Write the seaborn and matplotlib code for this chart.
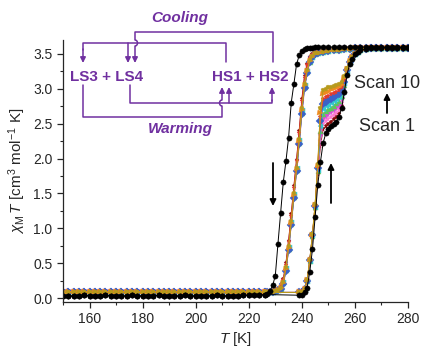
import matplotlib
matplotlib.use("Agg")
import matplotlib.pyplot as plt
import seaborn as sns
from matplotlib.lines import Line2D
from matplotlib.patches import FancyArrowPatch, Arc
from matplotlib.ticker import MultipleLocator

# ---- data: chi_M*T vs T for 10 thermal scans ----
scan_names = ["Scan 1", "Scan 2", "Scan 3", "Scan 4", "Scan 5",
              "Scan 6", "Scan 7", "Scan 8", "Scan 9", "Scan 10"]
scan_colors = ["#000000", "#8b0a0a", "#ff7ad0", "#d84ad8", "#5cc85c",
               "#33c6d0", "#3a62c8", "#e23b2e", "#ef8a1f", "#b79a1c"]
scan_markers = ["o", "*", "*", "v", "^", "<", "D", "*", ">", "p"]

# low temperature baseline (LS)
T_base = [150, 152, 154, 156, 158, 160, 162, 164, 166, 168, 170, 172, 174,
          176, 178, 180, 182, 184, 186, 188, 190, 192, 194, 196, 198, 200,
          202, 204, 206, 208, 210, 212, 214, 216, 218, 220, 222, 224, 226]
chi_base_black = [0.03, 0.03, 0.03, 0.03, 0.04, 0.03, 0.03, 0.03, 0.04, 0.03,
                  0.03, 0.03, 0.03, 0.04, 0.03, 0.03, 0.03, 0.03, 0.04, 0.03,
                  0.03, 0.03, 0.03, 0.04, 0.03, 0.03, 0.03, 0.03, 0.03, 0.04,
                  0.03, 0.03, 0.03, 0.03, 0.04, 0.04, 0.04, 0.04, 0.05]
chi_base_color = [0.08, 0.08, 0.08, 0.08, 0.08, 0.08, 0.08, 0.08, 0.08, 0.08,
                  0.08, 0.08, 0.08, 0.08, 0.08, 0.08, 0.08, 0.08, 0.08, 0.08,
                  0.08, 0.08, 0.08, 0.08, 0.08, 0.08, 0.08, 0.08, 0.08, 0.08,
                  0.08, 0.08, 0.08, 0.08, 0.08, 0.08, 0.08, 0.08, 0.08]

# high temperature plateau (HS)
T_top = [246, 248, 250, 252, 254, 256, 258, 260, 262, 264, 266, 268, 270,
         272, 274, 276, 278, 280]
chi_top_black = [3.60, 3.60, 3.60, 3.60, 3.60, 3.60, 3.60, 3.60, 3.60, 3.60,
                 3.60, 3.60, 3.60, 3.60, 3.60, 3.60, 3.60, 3.60]
chi_top_color = [3.52, 3.53, 3.54, 3.55, 3.56, 3.57, 3.57, 3.58, 3.58, 3.58,
                 3.59, 3.59, 3.59, 3.59, 3.59, 3.59, 3.59, 3.59]
T_top_warm = [264, 266, 268, 270, 272, 274, 276, 278, 280]
chi_top_warm = [3.57, 3.58, 3.58, 3.59, 3.59, 3.59, 3.59, 3.59, 3.59]

# cooling branch
T_cool = [227, 228, 229, 230, 231, 232, 233, 234, 235, 236, 237, 238, 239,
          240, 241, 242, 243, 244, 245]
cool_1 = [0.06, 0.10, 0.18, 0.32, 0.78, 1.22, 1.66, 1.96, 2.30, 2.80, 3.07,
          3.35, 3.48, 3.54, 3.57, 3.58, 3.59, 3.59, 3.60]
cool_2 = [0.08, 0.08, 0.09, 0.10, 0.12, 0.16, 0.27, 0.50, 0.82, 1.20, 1.60,
          1.98, 2.40, 2.85, 3.18, 3.36, 3.45, 3.50, 3.52]
cool_3 = [0.08, 0.08, 0.09, 0.10, 0.11, 0.13, 0.20, 0.38, 0.68, 1.04, 1.42,
          1.80, 2.20, 2.62, 3.00, 3.22, 3.38, 3.45, 3.50]
cool_4 = [0.08, 0.08, 0.09, 0.10, 0.11, 0.14, 0.22, 0.41, 0.71, 1.07, 1.46,
          1.84, 2.24, 2.68, 3.04, 3.25, 3.40, 3.46, 3.50]
cool_5 = [0.08, 0.08, 0.09, 0.10, 0.11, 0.13, 0.21, 0.40, 0.70, 1.06, 1.45,
          1.83, 2.22, 2.66, 3.02, 3.24, 3.39, 3.46, 3.50]
cool_6 = [0.08, 0.08, 0.09, 0.10, 0.11, 0.14, 0.23, 0.43, 0.73, 1.09, 1.49,
          1.86, 2.26, 2.70, 3.06, 3.26, 3.40, 3.46, 3.51]
cool_7 = [0.08, 0.08, 0.09, 0.10, 0.11, 0.13, 0.20, 0.39, 0.69, 1.05, 1.44,
          1.82, 2.21, 2.64, 3.01, 3.23, 3.38, 3.45, 3.50]
cool_8 = [0.08, 0.08, 0.09, 0.10, 0.12, 0.16, 0.26, 0.48, 0.80, 1.18, 1.58,
          1.96, 2.37, 2.82, 3.15, 3.34, 3.44, 3.49, 3.52]
cool_9 = [0.08, 0.08, 0.09, 0.10, 0.11, 0.14, 0.22, 0.42, 0.72, 1.08, 1.48,
          1.85, 2.25, 2.70, 3.05, 3.25, 3.40, 3.46, 3.50]
cool_10 = [0.08, 0.08, 0.09, 0.10, 0.11, 0.14, 0.23, 0.44, 0.74, 1.10, 1.50,
           1.87, 2.28, 2.72, 3.07, 3.27, 3.41, 3.47, 3.51]
cool_scans = [cool_1, cool_2, cool_3, cool_4, cool_5,
              cool_6, cool_7, cool_8, cool_9, cool_10]

# warming branch
T_warm = [239, 240, 241, 242, 243, 244, 245, 246, 247, 248, 249, 250, 251,
          252, 253, 254, 255, 256, 257, 258, 259, 260, 261, 262]
warm_1 = [0.04, 0.05, 0.09, 0.15, 0.38, 0.70, 1.16, 1.62, 1.95, 2.22, 2.36,
          2.43, 2.47, 2.50, 2.53, 2.60, 2.72, 2.95, 3.20, 3.35, 3.43, 3.50,
          3.53, 3.55]
warm_2 = [0.08, 0.09, 0.13, 0.24, 0.52, 0.88, 1.28, 1.78, 2.18, 2.42, 2.46,
          2.50, 2.53, 2.57, 2.60, 2.64, 2.76, 2.98, 3.22, 3.37, 3.45, 3.50,
          3.53, 3.55]
warm_3 = [0.08, 0.09, 0.13, 0.24, 0.52, 0.88, 1.28, 1.79, 2.25, 2.50, 2.54,
          2.57, 2.60, 2.63, 2.66, 2.70, 2.80, 3.00, 3.23, 3.37, 3.45, 3.50,
          3.53, 3.55]
warm_4 = [0.08, 0.09, 0.13, 0.24, 0.52, 0.89, 1.29, 1.80, 2.32, 2.57, 2.61,
          2.64, 2.67, 2.70, 2.73, 2.76, 2.85, 3.02, 3.24, 3.38, 3.45, 3.50,
          3.53, 3.55]
warm_5 = [0.08, 0.09, 0.13, 0.25, 0.53, 0.89, 1.30, 1.82, 2.40, 2.64, 2.68,
          2.71, 2.73, 2.76, 2.79, 2.82, 2.89, 3.05, 3.25, 3.38, 3.45, 3.50,
          3.53, 3.55]
warm_6 = [0.08, 0.09, 0.13, 0.25, 0.53, 0.90, 1.31, 1.84, 2.47, 2.71, 2.75,
          2.77, 2.80, 2.82, 2.85, 2.88, 2.94, 3.08, 3.26, 3.38, 3.45, 3.50,
          3.53, 3.55]
warm_7 = [0.08, 0.09, 0.13, 0.25, 0.54, 0.90, 1.32, 1.86, 2.54, 2.78, 2.81,
          2.84, 2.86, 2.88, 2.91, 2.93, 2.98, 3.10, 3.27, 3.39, 3.46, 3.50,
          3.53, 3.55]
warm_8 = [0.08, 0.09, 0.13, 0.26, 0.54, 0.91, 1.33, 1.88, 2.60, 2.85, 2.88,
          2.90, 2.92, 2.94, 2.96, 2.98, 3.02, 3.13, 3.28, 3.39, 3.46, 3.50,
          3.53, 3.55]
warm_9 = [0.08, 0.09, 0.13, 0.26, 0.55, 0.91, 1.34, 1.90, 2.66, 2.92, 2.94,
          2.96, 2.98, 3.00, 3.01, 3.03, 3.06, 3.16, 3.29, 3.40, 3.46, 3.50,
          3.53, 3.55]
warm_10 = [0.08, 0.09, 0.13, 0.26, 0.55, 0.92, 1.35, 1.92, 2.72, 2.98, 3.00,
           3.02, 3.03, 3.04, 3.05, 3.07, 3.10, 3.19, 3.30, 3.40, 3.46, 3.50,
           3.53, 3.55]
warm_scans = [warm_1, warm_2, warm_3, warm_4, warm_5,
              warm_6, warm_7, warm_8, warm_9, warm_10]

# ---- style ----
sns.set_style("ticks")
plt.rcParams["font.family"] = ["Liberation Sans", "DejaVu Sans"]
plt.rcParams["mathtext.fontset"] = "custom"
plt.rcParams["mathtext.rm"] = "Liberation Sans"
plt.rcParams["mathtext.it"] = "Liberation Sans:italic"

purple = "#7030a0"

fig = plt.figure(figsize=(4.24, 3.51), dpi=100)
ax = fig.add_axes([63 / 424, 1 - 301.5 / 351, 345 / 424, 261.5 / 351])


def draw_curve(T, chi, color, marker):
    size = 3.8 if marker == "o" else 3.6
    sns.lineplot(x=T, y=chi, sort=False, color=color, marker=marker,
                 markersize=size, markeredgecolor=color, markeredgewidth=0.3,
                 linewidth=0.7, ax=ax, legend=False)


# colored scans first, scan 1 (black) on top
order = list(range(1, 10)) + [0]
for i in order:
    color = scan_colors[i]
    marker = scan_markers[i]
    base = chi_base_black if i == 0 else chi_base_color
    top = chi_top_black if i == 0 else chi_top_color
    # cooling: 280 K -> 150 K
    Tc = T_top[::-1] + T_cool[::-1] + T_base[::-1]
    cc = top[::-1] + cool_scans[i][::-1] + base[::-1]
    draw_curve(Tc, cc, color, marker)
    # warming: 150 K -> 280 K
    Tw = T_base + T_warm + T_top_warm
    cw = base + warm_scans[i] + chi_top_warm
    draw_curve(Tw, cw, color, marker)

ax.set_xlim(150, 280)
ax.set_ylim(-0.05, 3.7)
ax.xaxis.set_major_locator(MultipleLocator(20))
ax.xaxis.set_minor_locator(MultipleLocator(10))
ax.yaxis.set_major_locator(MultipleLocator(0.5))
ax.yaxis.set_minor_locator(MultipleLocator(0.25))
ax.tick_params(which="major", direction="out", length=4, width=0.9, labelsize=10)
ax.tick_params(which="minor", direction="out", length=2, width=0.8)
ax.yaxis.set_major_formatter(matplotlib.ticker.FormatStrFormatter("%.1f"))
sns.despine(ax=ax)
for s in ["left", "bottom"]:
    ax.spines[s].set_linewidth(0.9)

ax.set_xlabel("$T$ [K]", fontsize=11, labelpad=3)
ax.set_ylabel("$\\chi_\\mathrm{M}\\,T$ [cm$^3$ mol$^{-1}$ K]", fontsize=11, labelpad=4)

# ---- LS/HS scheme (pixel positions of the picture) ----
tr = fig.dpi_scale_trans


def P(x, y):
    return (x / 100, (351 - y) / 100)


def line(pts, color=purple):
    xs = [P(x, y)[0] for x, y in pts]
    ys = [P(x, y)[1] for x, y in pts]
    fig.add_artist(Line2D(xs, ys, color=color, lw=1.1, transform=tr))


def arrow(a, b, color=purple, lw=1.1, ms=8):
    fig.add_artist(FancyArrowPatch(P(*a), P(*b), arrowstyle="-|>", color=color,
                                   lw=lw, mutation_scale=ms, shrinkA=0, shrinkB=0,
                                   transform=tr))


def hop(x, y, left=False):
    t1, t2 = (90, 270) if left else (-90, 90)
    fig.add_artist(Arc(P(x, y), 0.05, 0.06, theta1=t1, theta2=t2,
                       color=purple, lw=1.1, transform=tr))


# cooling paths
line([(273, 62), (273, 32), (135, 32), (135, 40)])
hop(135, 43)
arrow((135, 46), (135, 63))
line([(226, 62), (226, 43), (83, 43), (83, 50)])
arrow((83, 49), (83, 63))
arrow((128, 43), (128, 63))
# warming paths
line([(83, 85), (83, 117), (222, 117), (222, 106)])
hop(222, 103, left=True)
arrow((222, 100), (222, 87))
line([(130, 85), (130, 103), (272, 103), (272, 100)])
arrow((272, 101), (272, 87))
arrow((229, 103), (229, 87))

fig.text(*P(180, 18), "Cooling", transform=tr, color=purple, fontsize=11,
         fontweight="bold", fontstyle="italic", ha="center", va="center")
fig.text(*P(180, 129), "Warming", transform=tr, color=purple, fontsize=11,
         fontweight="bold", fontstyle="italic", ha="center", va="center")
fig.text(*P(107, 77), "LS3 + LS4", transform=tr, color=purple, fontsize=11,
         fontweight="bold", ha="center", va="center")
fig.text(*P(250, 77), "HS1 + HS2", transform=tr, color=purple, fontsize=11,
         fontweight="bold", ha="center", va="center")

# scan labels and direction arrows
fig.text(*P(354, 83), "Scan 10", transform=tr, fontsize=13, ha="left", va="center")
fig.text(*P(359, 127), "Scan 1", transform=tr, fontsize=13, ha="left", va="center")
arrow((387, 113), (387, 93), color="black", lw=1.3, ms=9)
arrow((273, 163), (273, 206), color="black", lw=1.3, ms=9)
arrow((331, 203), (331, 163), color="black", lw=1.3, ms=9)

plt.savefig("out.png", dpi=100)
